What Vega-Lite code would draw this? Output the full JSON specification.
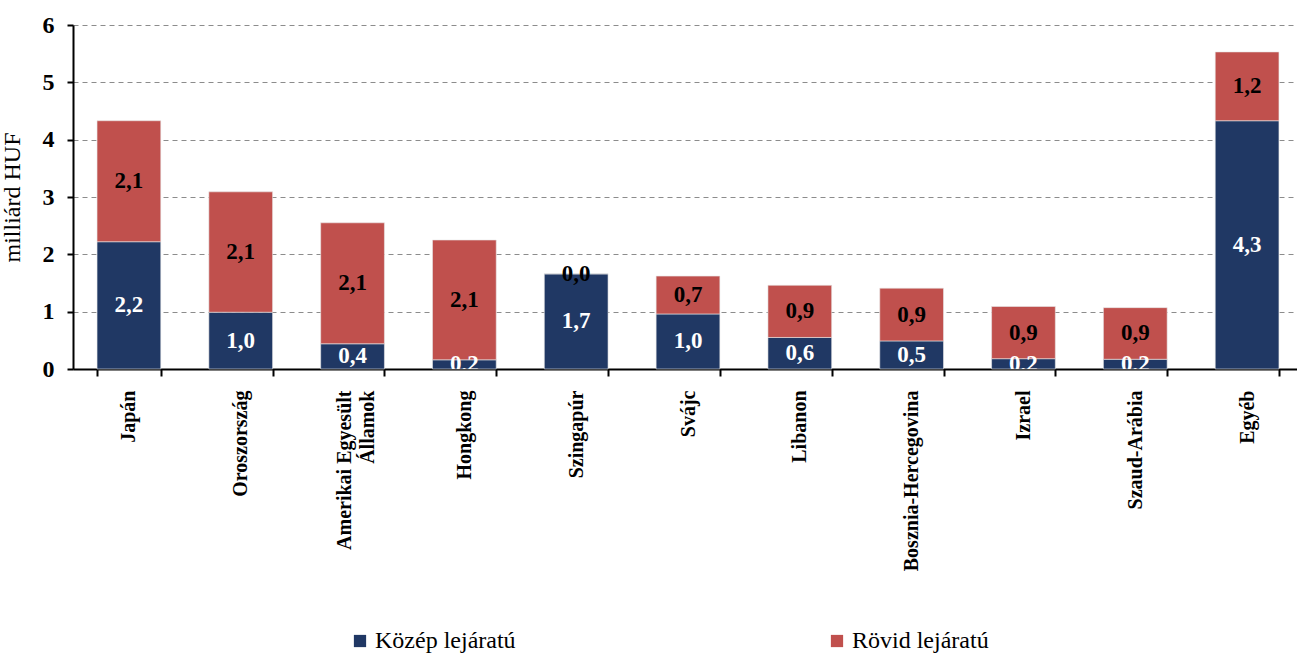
{
  "$schema": "https://vega.github.io/schema/vega-lite/v6.json",
  "autosize": {"type": "none"},
  "width": 1230,
  "height": 344,
  "padding": {"left": 73, "top": 25, "right": 0, "bottom": 284},
  "background": "white",
  "config": {
    "locale": {"number": {"decimal": ",", "thousands": " ", "grouping": [3], "currency": ["", " Ft"]}},
    "view": {"stroke": null},
    "font": "Liberation Serif"
  },
  "data": {
    "values": [
      {"country": "Japán", "type": "Közép lejáratú", "ord": 1, "value": 2.22},
      {"country": "Japán", "type": "Rövid lejáratú", "ord": 2, "value": 2.11},
      {"country": "Oroszország", "type": "Közép lejáratú", "ord": 1, "value": 0.99},
      {"country": "Oroszország", "type": "Rövid lejáratú", "ord": 2, "value": 2.1},
      {"country": "Amerikai Egyesült Államok", "type": "Közép lejáratú", "ord": 1, "value": 0.44},
      {"country": "Amerikai Egyesült Államok", "type": "Rövid lejáratú", "ord": 2, "value": 2.11},
      {"country": "Hongkong", "type": "Közép lejáratú", "ord": 1, "value": 0.16},
      {"country": "Hongkong", "type": "Rövid lejáratú", "ord": 2, "value": 2.09},
      {"country": "Szingapúr", "type": "Közép lejáratú", "ord": 1, "value": 1.66},
      {"country": "Szingapúr", "type": "Rövid lejáratú", "ord": 2, "value": 0.0},
      {"country": "Svájc", "type": "Közép lejáratú", "ord": 1, "value": 0.96},
      {"country": "Svájc", "type": "Rövid lejáratú", "ord": 2, "value": 0.66},
      {"country": "Libanon", "type": "Közép lejáratú", "ord": 1, "value": 0.55},
      {"country": "Libanon", "type": "Rövid lejáratú", "ord": 2, "value": 0.91},
      {"country": "Bosznia-Hercegovina", "type": "Közép lejáratú", "ord": 1, "value": 0.49},
      {"country": "Bosznia-Hercegovina", "type": "Rövid lejáratú", "ord": 2, "value": 0.92},
      {"country": "Izrael", "type": "Közép lejáratú", "ord": 1, "value": 0.18},
      {"country": "Izrael", "type": "Rövid lejáratú", "ord": 2, "value": 0.91},
      {"country": "Szaud-Arábia", "type": "Közép lejáratú", "ord": 1, "value": 0.17},
      {"country": "Szaud-Arábia", "type": "Rövid lejáratú", "ord": 2, "value": 0.9},
      {"country": "Egyéb", "type": "Közép lejáratú", "ord": 1, "value": 4.33},
      {"country": "Egyéb", "type": "Rövid lejáratú", "ord": 2, "value": 1.2}
    ]
  },
  "encoding": {
    "x": {
      "field": "country",
      "type": "nominal",
      "sort": null,
      "scale": {"paddingInner": 0.43, "paddingOuter": 0.215},
      "axis": {
        "title": null,
        "labelAngle": -90,
        "labelAlign": "right",
        "labelBaseline": "middle",
        "labelFont": "Liberation Serif",
        "labelFontSize": 20,
        "labelFontWeight": "bold",
        "labelColor": "black",
        "labelPadding": 14,
        "labelLineHeight": 23,
        "labelLimit": 400,
        "labelOffset": {"condition": {"test": "datum.label == 'Amerikai Egyesült Államok'", "value": -8}, "value": 0},
        "labelExpr": "datum.label == 'Amerikai Egyesült Államok' ? ['Amerikai Egyesült', 'Államok'] : datum.label",
        "tickBand": "extent",
        "tickColor": "black",
        "tickWidth": 2,
        "tickSize": 7,
        "domainColor": "black",
        "domainWidth": 2,
        "grid": false
      }
    }
  },
  "layer": [
    {
      "mark": {"type": "bar", "stroke": "#e8e8e8", "strokeWidth": 0.6},
      "encoding": {
        "y": {
          "field": "value",
          "type": "quantitative",
          "aggregate": "sum",
          "stack": "zero",
          "scale": {"domain": [0, 6], "nice": false},
          "axis": {
            "title": "milliárd HUF",
            "titleFont": "Liberation Serif",
            "titleFontSize": 24,
            "titleFontWeight": "normal",
            "titleColor": "black",
            "titlePadding": 18,
            "values": [0, 1, 2, 3, 4, 5, 6],
            "format": "d",
            "labelFont": "Liberation Serif",
            "labelFontSize": 24,
            "labelFontWeight": "bold",
            "labelColor": "black",
            "labelPadding": 13,
            "tickColor": "black",
            "tickWidth": 2,
            "tickSize": 6,
            "domainColor": "black",
            "domainWidth": 2,
            "grid": true,
            "gridColor": "#8c8c8c",
            "gridDash": [5, 4],
            "gridWidth": 1
          }
        },
        "color": {
          "field": "type",
          "type": "nominal",
          "scale": {"domain": ["Közép lejáratú", "Rövid lejáratú"], "range": ["#203864", "#C0504D"]},
          "legend": {
            "title": null,
            "orient": "none",
            "legendX": 275,
            "legendY": 604,
            "direction": "horizontal",
            "symbolType": "square",
            "symbolSize": 150,
            "symbolStrokeWidth": 0,
            "labelFont": "Liberation Serif",
            "labelFontSize": 24,
            "labelColor": "black",
            "labelOffset": 3,
            "columnPadding": 309
          }
        },
        "order": {"field": "ord", "type": "quantitative"}
      }
    },
    {
      "transform": [
        {"stack": "value", "groupby": ["country"], "sort": [{"field": "ord"}], "as": ["v0", "v1"]},
        {"calculate": "(datum.v0 + datum.v1) / 2", "as": "mid"}
      ],
      "mark": {"type": "text", "font": "Liberation Serif", "fontSize": 23, "fontWeight": "bold", "baseline": "middle", "align": "center", "clip": true},
      "encoding": {
        "y": {"field": "mid", "type": "quantitative"},
        "text": {"field": "value", "type": "quantitative", "format": ".1f"},
        "color": {
          "condition": {"test": "datum.type === 'Közép lejáratú'", "value": "white"},
          "value": "black"
        }
      }
    }
  ]
}
